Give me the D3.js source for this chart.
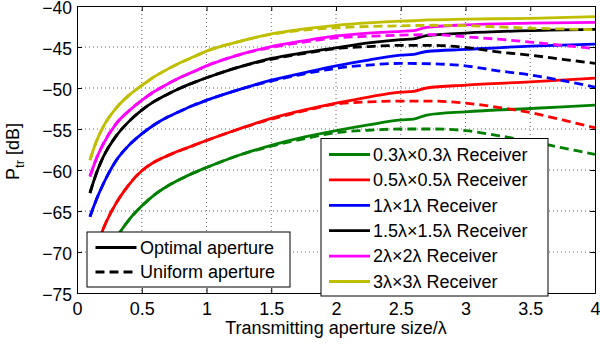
<!DOCTYPE html>
<html>
<head>
<meta charset="utf-8">
<script src="https://cdn.jsdelivr.net/npm/d3@7"></script>
<style>
  body { margin: 0; background: #fff; }
  svg text { font-family: "Liberation Sans", Arial, Helvetica, sans-serif; fill: #000; }
</style>
</head>
<body>
<div id="chart"></div>
<script>
// x positions (transmitting aperture / lambda)
var xOptimal = [0.1, 0.15, 0.2, 0.3, 0.4, 0.5, 0.6, 0.7, 0.8, 0.9, 1.0, 1.25, 1.5, 1.75, 2.0, 2.25, 2.5, 2.6, 2.7, 3.0, 3.5, 4.0];
var xUniform = [0.1, 0.15, 0.2, 0.3, 0.4, 0.5, 0.6, 0.7, 0.8, 0.9, 1.0, 1.25, 1.5, 1.75, 2.0, 2.25, 2.5, 2.75, 3.0, 3.25, 3.5, 3.75, 4.0];

// optimal aperture (solid)
var opt03 = [-74.2, -73.0, -71.7, -68.4, -66.1, -64.4, -63.0, -61.95, -61.1, -60.35, -59.7, -58.2, -57.0, -56.0, -55.2, -54.5, -53.9, -53.8, -53.3, -52.9, -52.5, -52.1];
var opt05 = [-72.0, -69.6, -67.3, -64.1, -61.8, -60.1, -59.0, -58.25, -57.6, -57.0, -56.4, -55.0, -53.7, -52.7, -51.85, -51.1, -50.5, -50.4, -50.0, -49.65, -49.25, -48.8];
var opt1 = [-65.7, -63.6, -61.8, -58.9, -57.0, -55.6, -54.45, -53.55, -52.8, -52.1, -51.5, -50.2, -49.05, -48.15, -47.3, -46.6, -46.0, -45.9, -45.55, -45.3, -44.9, -44.65];
var opt15 = [-62.8, -60.4, -58.5, -55.9, -54.1, -52.7, -51.6, -50.75, -50.0, -49.35, -48.75, -47.45, -46.4, -45.7, -45.1, -44.5, -44.1, -44.0, -43.6, -43.3, -43.0, -42.85];
var opt2 = [-60.8, -58.6, -56.9, -54.4, -52.8, -51.5, -50.4, -49.5, -48.7, -48.0, -47.3, -45.95, -44.95, -44.25, -43.65, -43.3, -43.1, -43.0, -42.6, -42.3, -42.1, -42.0];
var opt3 = [-58.8, -56.5, -54.8, -52.5, -50.9, -49.7, -48.6, -47.7, -46.9, -46.2, -45.5, -44.35, -43.4, -42.8, -42.35, -42.05, -41.85, -41.8, -41.7, -41.6, -41.5, -41.3];

// uniform aperture (dashed)
var uni03 = [-74.2, -73.0, -71.7, -68.4, -66.1, -64.4, -63.0, -61.95, -61.1, -60.35, -59.7, -58.2, -57.1, -56.2, -55.45, -55.15, -55.0, -55.0, -55.2, -55.8, -56.5, -57.3, -58.1];
var uni05 = [-72.0, -69.6, -67.3, -64.1, -61.8, -60.1, -59.0, -58.25, -57.6, -57.0, -56.4, -55.0, -53.8, -52.8, -51.95, -51.7, -51.6, -51.6, -51.85, -52.35, -53.0, -53.9, -54.85];
var uni1 = [-65.7, -63.6, -61.8, -58.9, -57.0, -55.6, -54.45, -53.55, -52.8, -52.1, -51.5, -50.2, -49.15, -48.3, -47.6, -47.2, -47.0, -47.05, -47.3, -47.9, -48.4, -49.1, -49.9];
var uni15 = [-62.8, -60.4, -58.5, -55.9, -54.1, -52.7, -51.6, -50.75, -50.0, -49.35, -48.75, -47.45, -46.5, -45.8, -45.2, -44.95, -44.8, -44.8, -45.05, -45.6, -46.0, -46.5, -47.0];
var uni2 = [-60.8, -58.6, -56.9, -54.4, -52.8, -51.5, -50.4, -49.5, -48.7, -48.0, -47.3, -45.95, -45.05, -44.4, -43.9, -43.7, -43.55, -43.5, -43.75, -44.05, -44.4, -44.8, -45.2];
var uni3 = [-58.8, -56.5, -54.8, -52.5, -50.9, -49.7, -48.6, -47.7, -46.9, -46.2, -45.5, -44.35, -43.45, -42.95, -42.65, -42.5, -42.42, -42.35, -42.4, -42.55, -42.7, -42.8, -42.9];

var receivers = ["0.3λ×0.3λ Receiver", "0.5λ×0.5λ Receiver", "1λ×1λ Receiver", "1.5λ×1.5λ Receiver", "2λ×2λ Receiver", "3λ×3λ Receiver"];
var colors = ["#008000", "#ff0000", "#0000ff", "#000000", "#ff00ff", "#bfbf00"];
var optimal = [opt03, opt05, opt1, opt15, opt2, opt3];
var uniform = [uni03, uni05, uni1, uni15, uni2, uni3];

var xTicks = [0, 0.5, 1, 1.5, 2, 2.5, 3, 3.5, 4];
var yTicks = [-75, -70, -65, -60, -55, -50, -45, -40];

var W = 600, H = 345;
var margin = { top: 6, right: 5, bottom: 52, left: 77 };
var width = W - margin.left - margin.right,
  height = H - margin.top - margin.bottom;
var fs = 18;

var svg = d3.select("#chart").append("svg")
  .attr("width", W).attr("height", H)
  .append("g")
  .attr("transform", "translate(" + margin.left + "," + margin.top + ")");

var x = d3.scaleLinear().domain([0, 4]).range([0, width]);
var y = d3.scaleLinear().domain([-75, -40]).range([height, 0]);

// grid
svg.append("g").selectAll("line").data(xTicks.slice(1, -1)).enter().append("line")
  .attr("x1", d => x(d)).attr("x2", d => x(d))
  .attr("y1", 0).attr("y2", height)
  .attr("stroke", "#666").attr("stroke-dasharray", "1,3");
svg.append("g").selectAll("line").data(yTicks.slice(1, -1)).enter().append("line")
  .attr("y1", d => y(d)).attr("y2", d => y(d))
  .attr("x1", 0).attr("x2", width)
  .attr("stroke", "#666").attr("stroke-dasharray", "1,3");

svg.append("clipPath").attr("id", "clip")
  .append("rect").attr("width", width).attr("height", height);

var lineOpt = d3.line().x((d, i) => x(xOptimal[i])).y(d => y(d)).curve(d3.curveMonotoneX);
var lineUni = d3.line().x((d, i) => x(xUniform[i])).y(d => y(d)).curve(d3.curveMonotoneX);

var plot = svg.append("g").attr("clip-path", "url(#clip)");
for (var k = 0; k < receivers.length; k++) {
  plot.append("path").attr("d", lineOpt(optimal[k]))
    .attr("fill", "none").attr("stroke", colors[k]).attr("stroke-width", 2.8);
  plot.append("path").attr("d", lineUni(uniform[k]))
    .attr("fill", "none").attr("stroke", colors[k]).attr("stroke-width", 2.8)
    .attr("stroke-dasharray", "9,5");
}

// axes (ticks inward, box all round)
var fmt = d3.format("");
var ax = svg.append("g").attr("transform", "translate(0," + height + ")")
  .call(d3.axisBottom(x).tickValues(xTicks).tickSize(-5).tickPadding(9).tickFormat(fmt));
var ay = svg.append("g")
  .call(d3.axisLeft(y).tickValues(yTicks).tickSize(-5).tickPadding(5).tickFormat(fmt));
svg.append("g").call(d3.axisTop(x).tickValues(xTicks).tickSize(-5).tickFormat(""));
svg.append("g").attr("transform", "translate(" + width + ",0)")
  .call(d3.axisRight(y).tickValues(yTicks).tickSize(-5).tickFormat(""));
svg.selectAll(".domain").attr("stroke", "#000");
svg.selectAll(".tick line").attr("stroke", "#000");
svg.selectAll(".tick text").attr("font-size", fs).attr("fill", "#000");
ay.selectAll(".tick text").attr("font-size", 17.5).attr("dy", "0.4em");

// axis labels
svg.append("text").attr("x", width / 2).attr("y", height + 41)
  .attr("text-anchor", "middle").attr("font-size", fs)
  .text("Transmitting aperture size/λ");
var yl = svg.append("text").attr("transform", "translate(-58," + (height / 2 + 2) + ") rotate(-90)")
  .attr("text-anchor", "middle").attr("font-size", fs);
yl.append("tspan").text("P");
yl.append("tspan").attr("font-size", 13).attr("dy", 5).text("tr");
yl.append("tspan").attr("dy", -5).text(" [dB]");

// legend: line style
var lg1 = svg.append("g").attr("transform", "translate(" + (87 - margin.left) + "," + (232 - margin.top) + ")");
lg1.append("rect").attr("width", 203).attr("height", 55)
  .attr("fill", "#fff").attr("stroke", "#000");
var styles = [["Optimal aperture", null], ["Uniform aperture", "9,5"]];
styles.forEach(function(s, i) {
  var yy = 15.5 + i * 24.5;
  lg1.append("line").attr("x1", 8.5).attr("x2", 49.5).attr("y1", yy).attr("y2", yy)
    .attr("stroke", "#000").attr("stroke-width", 2.8).attr("stroke-dasharray", s[1]);
  lg1.append("text").attr("x", 53).attr("y", yy).attr("dy", "0.35em")
    .attr("font-size", fs).text(s[0]);
});

// legend: receivers
var lg2 = svg.append("g").attr("transform", "translate(" + (321 - margin.left) + "," + (138.5 - margin.top) + ")");
lg2.append("rect").attr("width", 227).attr("height", 157.5)
  .attr("fill", "#fff").attr("stroke", "#000");
receivers.forEach(function(r, i) {
  var yy = 16 + i * 25.4;
  lg2.append("line").attr("x1", 8).attr("x2", 49).attr("y1", yy).attr("y2", yy)
    .attr("stroke", colors[i]).attr("stroke-width", 2.8);
  lg2.append("text").attr("x", 52).attr("y", yy).attr("dy", "0.35em")
    .attr("font-size", fs).text(r);
});
</script>
</body>
</html>
